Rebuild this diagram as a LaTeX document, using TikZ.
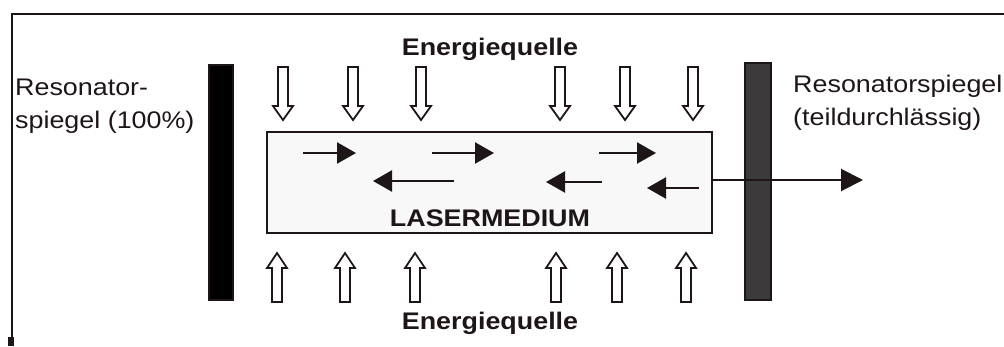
\documentclass[tikz,border=0pt]{standalone}
\usepackage{fontspec}
\setmainfont{Liberation Sans}[FakeStretch=1.12]
\usetikzlibrary{arrows.meta}
\definecolor{ink}{HTML}{1E1616}
\definecolor{mirrorgray}{HTML}{3C3A3A}
\definecolor{mediumfill}{HTML}{F8F8F8}
\begin{document}
\begin{tikzpicture}[x=1pt,y=-1pt,
  txt/.style={font=\fontsize{24}{29}\selectfont, inner sep=0pt, text=ink},
  boldtxt/.style={font=\fontsize{24}{29}\selectfont\bfseries, inner sep=0pt, text=ink},
  ray/.style={line width=2.3pt, draw=ink, -{Triangle[length=19pt,width=21pt]}},
  outray/.style={line width=2pt, draw=ink, -{Triangle[length=22pt,width=22pt]}},
  pump/.style={draw=ink, fill=white, line width=1.8pt},
  mirrorbox/.style={draw=ink, line width=1.2pt, inner sep=0pt}]
\useasboundingbox (0,0) rectangle (1004,346);
% frame
\draw[line width=2pt, ink] (1004,14) -- (12,14) -- (12,338);
\fill[ink] (8,337) rectangle (13.5,346);
% mirrors
\node[mirrorbox, fill=black, minimum width=24pt, minimum height=235pt] (mleft) at (221,182.5) {};
\node[mirrorbox, fill=mirrorgray, minimum width=26pt, minimum height=237pt] (mright) at (758,181.5) {};
% laser medium
\node[draw=ink, fill=mediumfill, line width=2pt, minimum width=445pt, minimum height=101pt, inner sep=0pt] (medium) at (489.5,182.5) {};
\node[boldtxt, anchor=base] (mediumlabel) at (490,226) {LASERMEDIUM};
% pump arrows
\foreach \x in {283,353,421,560,625,693}
  \draw[pump] (\x-5,67) -- (\x-5,106) -- (\x-10,106) -- (\x,120) -- (\x+10,106) -- (\x+5,106) -- (\x+5,67) -- cycle;
\foreach \x in {277,345,415,556,617,686}
  \draw[pump] (\x-5,302) -- (\x-5,268) -- (\x-10,268) -- (\x,253) -- (\x+10,268) -- (\x+5,268) -- (\x+5,302) -- cycle;
% inner rays
\draw[ray] (303,153) -- (356,153);
\draw[ray] (432,153) -- (494,153);
\draw[ray] (599,153) -- (656,153);
\draw[ray] (454,181) -- (373,181);
\draw[ray] (602,182) -- (546,182);
\draw[ray] (699,188) -- (647,188);
% output beam
\coordinate (beamout) at (863,180);
\draw[outray] (medium.east |- beamout) -- (beamout);
% labels
\node[boldtxt, anchor=base] (srctop) at (490,55) {Energiequelle};
\node[boldtxt, anchor=base] (srcbot) at (490,329) {Energiequelle};
\node[txt, anchor=base west] (l1) at (15,95) {Resonator-};
\node[txt, anchor=base west] (l2) at (15,128) {spiegel (100\%)};
\node[txt, anchor=base west] (r1) at (793,92) {Resonatorspiegel};
\node[txt, anchor=base west] (r2) at (793,125) {(teildurchlässig)};
\end{tikzpicture}
\end{document}
